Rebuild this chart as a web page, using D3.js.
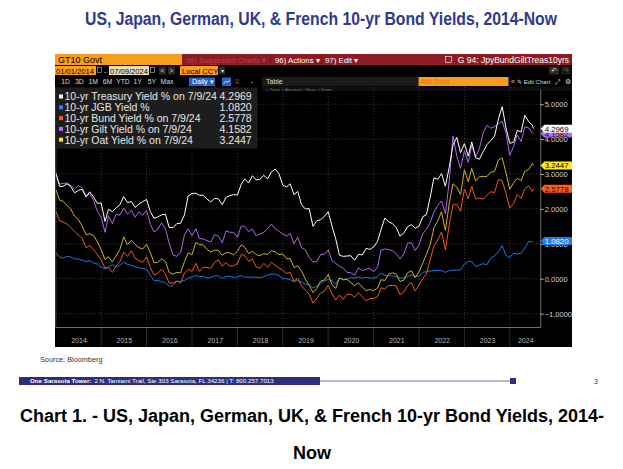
<!DOCTYPE html>
<html><head><meta charset="utf-8">
<script src="https://cdn.jsdelivr.net/npm/d3@7"></script>
<style>body{margin:0;background:#fff;}svg{display:block;}</style>
</head><body>
<svg id="c" width="623" height="469"></svg>
<script>
// ---------------- DATA ----------------
const pageTitle = "US, Japan, German, UK, & French 10-yr Bond Yields, 2014-Now";
const captionLines = ["Chart 1. - US, Japan, German, UK, & French 10-yr Bond Yields, 2014-", "Now"];
const seriesNames = ["10-yr Treasury Yield % on 7/9/24", "10-yr JGB Yield %", "10-yr Bund Yield % on 7/9/24", "10-yr Gilt Yield % on 7/9/24", "10-yr Oat Yield % on 7/9/24"];
const lastValues = [4.2969, 1.0820, 2.5778, 4.1582, 3.2447];
const yearLabels = [2014, 2015, 2016, 2017, 2018, 2019, 2020, 2021, 2022, 2023, 2024];
const yTicks = [5, 4, 3, 2, 1, 0, -1];
// monthly observations, first of month Jan 2014 .. Jul 2024, then last date 7/9/24
const treasury = [3.03, 2.64,2.65,2.72,2.64,2.46,2.53,2.56,2.34,2.49,2.34,2.16,2.17,
1.64,1.99,1.92,2.03,2.12,2.35,2.18,2.21,2.04,2.14,2.21,2.27,
1.92,1.73,1.77,1.83,1.85,1.47,1.46,1.58,1.59,1.83,2.37,2.44,
2.45,2.39,2.39,2.28,2.20,2.30,2.29,2.12,2.33,2.38,2.41,2.40,
2.71,2.86,2.74,2.95,2.83,2.85,2.96,2.86,3.06,3.14,3.01,2.68,
2.63,2.72,2.41,2.50,2.12,2.00,2.01,1.50,1.66,1.69,1.78,1.92,
1.51,1.15,0.67,0.64,0.65,0.66,0.53,0.70,0.68,0.87,0.84,0.91,
1.07,1.40,1.74,1.63,1.58,1.47,1.22,1.31,1.49,1.55,1.44,1.51,
1.78,1.83,2.34,2.89,2.85,3.01,2.65,3.19,3.83,4.05,3.61,3.87,
3.51,3.92,3.47,3.42,3.64,3.84,3.96,4.09,4.57,4.93,4.33,3.88,
3.91,4.25,4.20,4.68,4.50,4.40, 4.2969];
const jgb = [0.74, 0.62,0.59,0.64,0.62,0.57,0.56,0.53,0.49,0.52,0.45,0.42,0.33,
0.28,0.34,0.40,0.34,0.39,0.47,0.41,0.38,0.35,0.31,0.30,0.27,
0.10,-0.06,-0.05,-0.08,-0.11,-0.22,-0.19,-0.07,-0.08,-0.05,0.02,0.05,
0.09,0.06,0.07,0.02,0.04,0.08,0.08,0.01,0.06,0.07,0.04,0.05,
0.09,0.05,0.04,0.05,0.04,0.03,0.06,0.11,0.13,0.13,0.09,0.00,
0.00,-0.03,-0.09,-0.05,-0.09,-0.16,-0.16,-0.27,-0.21,-0.14,-0.07,-0.02,
-0.06,-0.15,0.02,-0.04,0.00,0.03,0.02,0.05,0.01,0.04,0.02,0.02,
0.05,0.16,0.09,0.09,0.08,0.06,0.02,0.02,0.07,0.10,0.07,0.07,
0.18,0.20,0.22,0.23,0.24,0.23,0.18,0.23,0.24,0.25,0.25,0.42,
0.49,0.50,0.35,0.39,0.43,0.40,0.60,0.65,0.77,0.95,0.67,0.61,
0.73,0.71,0.73,0.88,1.07,1.05, 1.0820];
const bund = [1.93, 1.66,1.62,1.57,1.47,1.36,1.25,1.16,0.89,0.95,0.84,0.70,0.54,
0.30,0.33,0.18,0.37,0.49,0.76,0.64,0.80,0.59,0.52,0.47,0.63,
0.32,0.11,0.15,0.27,0.14,-0.13,-0.12,-0.07,-0.12,0.16,0.27,0.21,
0.44,0.21,0.33,0.32,0.30,0.47,0.54,0.36,0.46,0.36,0.37,0.43,
0.70,0.66,0.50,0.56,0.34,0.30,0.44,0.33,0.47,0.38,0.31,0.24,
0.15,0.18,-0.07,0.01,-0.20,-0.33,-0.44,-0.70,-0.57,-0.41,-0.36,-0.19,
-0.43,-0.61,-0.47,-0.59,-0.45,-0.45,-0.53,-0.40,-0.52,-0.63,-0.57,-0.57,
-0.52,-0.26,-0.29,-0.20,-0.19,-0.21,-0.46,-0.38,-0.20,-0.11,-0.35,-0.18,
0.01,0.14,0.55,0.94,1.12,1.34,0.82,1.54,2.11,2.14,1.93,2.57,
2.29,2.65,2.29,2.31,2.28,2.39,2.49,2.47,2.84,2.81,2.45,2.02,
2.16,2.41,2.30,2.58,2.66,2.50, 2.5778];
const gilt = [3.02, 2.71,2.73,2.74,2.67,2.57,2.67,2.60,2.37,2.43,2.25,1.93,1.76,
1.33,1.80,1.58,1.85,1.82,2.02,1.85,1.96,1.76,1.92,1.82,1.96,
1.56,1.34,1.42,1.60,1.43,1.02,0.68,0.64,0.75,1.25,1.43,1.24,
1.43,1.15,1.14,1.09,1.05,1.26,1.22,1.03,1.37,1.33,1.33,1.19,
1.51,1.50,1.35,1.42,1.23,1.28,1.33,1.43,1.57,1.43,1.36,1.28,
1.22,1.30,1.00,1.19,0.89,0.83,0.61,0.48,0.49,0.69,0.70,0.82,
0.52,0.44,0.36,0.30,0.18,0.17,0.10,0.31,0.23,0.27,0.30,0.20,
0.33,0.82,0.85,0.84,0.80,0.72,0.57,0.71,1.02,1.03,0.81,0.97,
1.30,1.41,1.61,1.91,2.10,2.23,1.86,2.80,4.09,3.51,3.16,3.67,
3.33,3.82,3.49,3.72,4.18,4.39,4.31,4.36,4.44,4.51,4.18,3.54,
3.79,4.12,3.93,4.35,4.32,4.17, 4.1582];
const oat = [2.56, 2.25,2.22,2.10,2.00,1.79,1.70,1.51,1.26,1.29,1.24,1.06,0.83,
0.55,0.63,0.48,0.65,0.84,1.20,0.97,1.10,0.98,0.89,0.85,0.99,
0.74,0.46,0.47,0.57,0.49,0.18,0.13,0.18,0.17,0.49,0.74,0.69,
1.04,0.98,0.97,0.84,0.76,0.82,0.81,0.67,0.75,0.74,0.68,0.79,
0.97,0.90,0.72,0.79,0.69,0.66,0.72,0.69,0.80,0.77,0.69,0.71,
0.57,0.58,0.32,0.37,0.22,-0.01,-0.19,-0.40,-0.28,-0.07,-0.04,0.12,
-0.17,-0.28,0.02,-0.02,-0.02,-0.11,-0.20,-0.12,-0.24,-0.34,-0.31,-0.34,
-0.27,-0.03,-0.05,0.13,0.17,0.13,-0.08,-0.04,0.17,0.23,0.03,0.20,
0.45,0.69,0.98,1.46,1.66,1.92,1.38,2.15,2.72,2.62,2.41,3.12,
2.78,3.16,2.80,2.92,2.93,2.93,3.05,3.07,3.40,3.46,3.04,2.56,
2.75,2.88,2.81,3.08,3.13,3.30, 3.2447];

// ---------------- SETUP ----------------
const F = "'Liberation Sans', Arial, sans-serif";
const svg = d3.select("#c");
const dates = d3.timeMonth.range(new Date(2014,0,1), new Date(2024,6,2)).concat([new Date(2024,6,9)]);
const seriesData = [treasury, jgb, bund, gilt, oat];
const lineColors = ["#ffffff", "#1f74e6", "#f0581e", "#b266e6", "#cbb41c"];
const keyColors  = ["#ffffff", "#2a7cff", "#ff5a1e", "#b86cf2", "#ffe31a"];
const boxColors  = ["#ffffff", "#1f7bef", "#ff5a1f", "#b86cf0", "#ffea1f"];
const boxText    = ["#000", "#fff", "#111", "#111", "#000"];

function rect(g,x,y,w,h,fill,stroke){const r=g.append("rect").attr("x",x).attr("y",y).attr("width",w).attr("height",h).attr("fill",fill); if(stroke) r.attr("stroke",stroke).attr("stroke-width",0.6); return r;}
function txt(g,x,y,s,size,fill,anchor,weight){return g.append("text").attr("x",x).attr("y",y).attr("font-family",F).attr("font-size",size).attr("fill",fill).attr("text-anchor",anchor||"start").attr("font-weight",weight||"normal").text(s);}

// ---------------- SLIDE ----------------
txt(svg,321,24.5,pageTitle,18,"#2E3A8C","middle","bold").attr("textLength",472).attr("lengthAdjust","spacingAndGlyphs");
txt(svg,40,362,"Source: Bloomberg",7.3,"#333");
rect(svg,19,377,301,8,"#2B2F7E");
const ft = svg.append("text").attr("x",30).attr("y",383.3).attr("font-family",F).attr("font-size",6.2).attr("fill","#fff");
ft.append("tspan").attr("font-weight","bold").text("One Sarasota Tower:");
ft.append("tspan").attr("dx",3).text("2 N. Tamiami Trail, Ste 303  Sarasota, FL 34236    |    T: 800.257.7013");
svg.append("line").attr("x1",320).attr("x2",512).attr("y1",381).attr("y2",381).attr("stroke","#9aa0c8").attr("stroke-width",1.4);
rect(svg,510,378,6,6,"#2B2F7E");
txt(svg,594,384,"3",7,"#333");
txt(svg,312,422,captionLines[0],18,"#000","middle","bold");
txt(svg,312,459,captionLines[1],18,"#000","middle","bold");

// ---------------- BLOOMBERG SCREEN ----------------
const B = svg.append("g");
rect(B,55,54,517,293,"#000");
// header row
rect(B,55,54,127,11,"#F99D1C");
txt(B,58,62.8,"GT10 Govt",9,"#000");
rect(B,182,54,390,11,"#8E1A24");
txt(B,186,62.5,"98) Suggested Charts ▾",7.6,"#b8434d");
rect(B,270.5,55,0.6,9,"#6a1018"); rect(B,321,55,0.6,9,"#6a1018"); rect(B,357,55,0.6,9,"#6a1018");
txt(B,275,62.5,"96) Actions ▾",7.8,"#fff");
txt(B,325,62.5,"97) Edit ▾",7.8,"#fff");
rect(B,445.5,56.5,6,6,"none","#fff");
txt(B,569,62.8,"G 94: JpyBundGiltTreas10yrs",8.5,"#fff","end");
// row 2
rect(B,55,66,41,9,"#F99D1C"); txt(B,56,73.6,"01/01/2014",7.6,"#000");
rect(B,97.5,67.5,4,5,"none","#bbb");
txt(B,104,73.6,"-",7.5,"#ccc");
rect(B,109,66,40,9,"#E9DFC0"); txt(B,110,73.6,"07/09/2024",7.6,"#000");
rect(B,150.5,67.5,4,5,"none","#bbb");
rect(B,159,66.5,7,8,"#2b2b2b"); txt(B,162.5,73.3,"<",6.5,"#ddd","middle");
rect(B,168,66.5,7,8,"#2b2b2b"); txt(B,171.5,73.3,">",6.5,"#ddd","middle");
rect(B,180,66,38,9,"#F99D1C"); txt(B,182,73.6,"Local CCY",7.6,"#000");
rect(B,219,66.5,6,8,"#2b2b2b"); txt(B,222,73,"▾",6,"#ddd","middle");
rect(B,549,66.5,10,8,"#2b2b2b"); txt(B,554,73.3,"↶",7,"#ddd","middle");
rect(B,561,66.5,10,8,"#1b1b1b"); txt(B,566,73.3,"↷",7,"#666","middle");
// row 3
const periods = ["1D","3D","1M","6M","YTD","1Y","5Y","Max"];
const periodX = [65.6,79.4,93.3,107.5,123,137.6,151.8,167];
periods.forEach((p,i)=>txt(B,periodX[i],84,p,6.8,"#ddd","middle"));
rect(B,189,77.5,26,8.5,"#2462C8"); txt(B,192,84,"Daily ▾",7,"#fff");
rect(B,222,77.5,9,8.5,"#2462C8");
B.append("path").attr("d","M223.5,84 L226,81 L228,82.5 L230,79.5").attr("stroke","#fff").attr("fill","none").attr("stroke-width",0.7);
txt(B,237,84,"⁞⁞",7,"#aaa","middle");
txt(B,252,84,"-",7,"#ccc","middle");
rect(B,262,77,156,9,"#1a1a1a"); txt(B,266,84,"Table",7,"#ddd");
rect(B,418.5,77,90,9,"#F99D1C"); txt(B,420,84,"Add Data",7,"#E0781A");
txt(B,513,84,"«",7,"#ccc","middle");
txt(B,517,84,"✎ Edit Chart",6,"#ddd");
txt(B,557.5,84,"⤢",6.5,"#ddd","middle"); txt(B,567.5,84,"⚙",6.5,"#ddd","middle");
rect(B,262,86.5,310,4.5,"#0e0e0e");
txt(B,266,90.5,"+ Track    ✓ Annotate    ⌇ News    ⌕ Zoom",4.2,"#7a7a7a");

// ---------------- PLOT ----------------
const X0 = 55.8, XR = 540.7, YT = 87, YB = 327.5;
const x = d3.scaleTime().domain([new Date(2014,0,1), new Date(2024,6,9)]).range([55.8, 533.4]);
const y = d3.scaleLinear().domain([-1,5]).range([313.6,104.2]);

const yearStarts = yearLabels.map(yr => new Date(yr,0,1));
// grid
const grid = B.append("g");
grid.selectAll(".hg").data(yTicks).enter().append("line")
  .attr("x1",X0).attr("x2",XR).attr("y1",d=>y(d)).attr("y2",d=>y(d))
  .attr("stroke","#4a4a4a").attr("stroke-width",0.8).attr("stroke-dasharray","1,2");
grid.selectAll(".vg").data(yearStarts.slice(1)).enter().append("line")
  .attr("x1",d=>x(d)).attr("x2",d=>x(d)).attr("y1",YT).attr("y2",YB)
  .attr("stroke","#4a4a4a").attr("stroke-width",0.8).attr("stroke-dasharray","1,2");
grid.selectAll(".sep").data(yearStarts.slice(1)).enter().append("line")
  .attr("x1",d=>x(d)).attr("x2",d=>x(d)).attr("y1",YB).attr("y2",347)
  .attr("stroke","#2c2c2c").attr("stroke-width",1);

// lines
B.append("clipPath").attr("id","pc").append("rect").attr("x",X0).attr("y",YT).attr("width",XR-X0).attr("height",YB-YT);
const line = d3.line().x((d,i)=>x(dates[i])).y(d=>y(d));
const order = [1,2,4,3,0];
const lg = B.append("g").attr("clip-path","url(#pc)");
order.forEach(k=>{
  lg.append("path").datum(seriesData[k]).attr("d",line).attr("fill","none")
    .attr("stroke",lineColors[k]).attr("stroke-width",1).attr("stroke-linejoin","round");
});

// frame lines
B.append("line").attr("x1",X0).attr("x2",XR).attr("y1",YB).attr("y2",YB).attr("stroke","#8a8a8a").attr("stroke-width",0.8);
B.append("line").attr("x1",X0).attr("x2",X0).attr("y1",YT).attr("y2",YB).attr("stroke","#6a6a6a").attr("stroke-width",0.8);
B.append("line").attr("x1",XR).attr("x2",XR).attr("y1",YT+3).attr("y2",YB).attr("stroke","#8a8a8a").attr("stroke-width",0.8);

// right axis
const ya = B.append("g").attr("transform",`translate(${XR},0)`)
  .call(d3.axisRight(y).tickValues(yTicks).tickFormat(d3.format(".4f")).tickSize(3).tickPadding(1));
ya.select(".domain").remove();
ya.selectAll("line").attr("stroke","#bbb");
ya.selectAll("text").attr("font-family",F).attr("font-size",7.5).attr("fill","#d0d0d0");

// bottom axis labels (centered in each year interval)
const mids = yearLabels.map((yr,i)=>{
  const a = x(new Date(yr,0,1)), b = Math.min(XR, x(new Date(yr+1,0,1)));
  return x.invert((Math.max(a,X0)+b)/2);
});
const xa = B.append("g").attr("transform",`translate(0,${YB})`)
  .call(d3.axisBottom(x).tickValues(mids).tickFormat(d=>yearLabels[mids.indexOf(d)]).tickSize(0).tickPadding(11));
xa.select(".domain").remove();
xa.selectAll("text").attr("font-family",F).attr("font-size",7).attr("fill","#b8b8b8");

// end-value boxes
const boxOrder = [3,0,4,2,1];
boxOrder.forEach(k=>{
  const cy = y(lastValues[k]);
  B.append("path").attr("d",`M${XR},${cy} L${XR+3.5},${cy-4} L572,${cy-4} L572,${cy+4} L${XR+3.5},${cy+4} Z`).attr("fill",boxColors[k]);
  txt(B,XR+4,cy+3,d3.format(".4f")(lastValues[k]),7.8,boxText[k]);
});

// legend
const L = B.append("g");
rect(L,55.5,87.5,202,61,"#1d1d1d");
seriesNames.forEach((n,i)=>{
  const cy = 96.7 + i*10.8;
  rect(L,59,cy-2.2,4,4,keyColors[i]);
  txt(L,64.5,cy+3.6,n,10.5,"#e8e8e8");
  txt(L,251.7,cy+3.6,d3.format(".4f")(lastValues[i]),10.5,"#e8e8e8","end");
});
</script>
</body></html>
